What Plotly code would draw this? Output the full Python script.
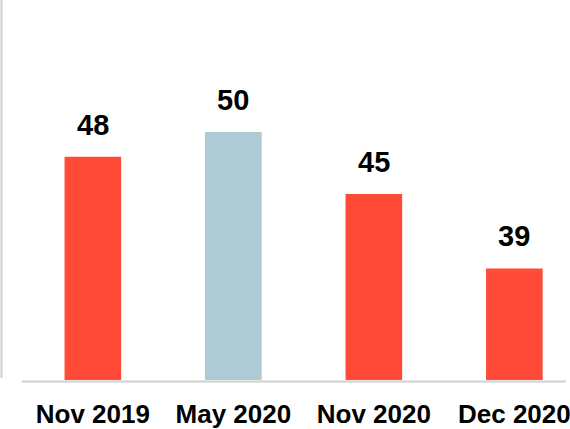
import plotly.graph_objects as go

categories = ["Nov 2019", "May 2020", "Nov 2020", "Dec 2020"]
values = [48, 50, 45, 39]
bar_colors = ["#FF4A38", "#AECAD4", "#FF4A38", "#FF4A38"]

FONT = "Liberation Sans, Arial, sans-serif"

W, H = 570, 429
plot_bottom = 385
px_per_cat = 141.5
first_center = 93.5
y_min = 30
px_per_unit = 12.56

x_idx = list(range(len(categories)))
x_lo = -first_center / px_per_cat
x_hi = x_lo + W / px_per_cat
y_hi = y_min + plot_bottom / px_per_unit

fig = go.Figure()
fig.add_trace(go.Bar(
    x=x_idx, y=values,
    marker=dict(color=bar_colors, line=dict(width=0)),
    width=57 / px_per_cat,
    hoverinfo="skip",
))

for xi, v in zip(x_idx, values):
    fig.add_annotation(
        x=xi, y=v, text=str(v), showarrow=False,
        yanchor="bottom", xanchor="center", yshift=14,
        font=dict(family=FONT, size=29, color="#000000", weight="bold"),
    )

# left vertical axis line and baseline
fig.add_shape(type="line", xref="paper", yref="paper",
              x0=1.5 / W, x1=1.5 / W,
              y0=(plot_bottom - 383) / plot_bottom, y1=1,
              line=dict(color="#D0D0D0", width=2))
fig.add_shape(type="line", xref="paper", yref="paper",
              x0=22 / W, x1=1,
              y0=-1.5 / plot_bottom, y1=-1.5 / plot_bottom,
              line=dict(color="#D0D0D0", width=2))

fig.update_layout(
    width=W, height=H,
    margin=dict(l=0, r=0, t=0, b=H - plot_bottom, pad=0),
    paper_bgcolor="white", plot_bgcolor="white",
    showlegend=False,
    xaxis=dict(
        range=[x_lo, x_hi], tickmode="array", tickvals=x_idx, ticktext=categories,
        showgrid=False, zeroline=False, showline=False, ticks="",
        ticklabelstandoff=16, ticklabeloverflow="allow",
        tickfont=dict(family=FONT, size=26, color="#000000", weight="bold"),
        fixedrange=True,
    ),
    yaxis=dict(
        range=[y_min, y_hi], showgrid=False, zeroline=False, showline=False,
        showticklabels=False, ticks="", fixedrange=True,
    ),
)

fig.write_html("out.html", config={"displayModeBar": False},
               post_script="document.body.style.margin='0px';document.body.style.overflow='hidden';")
